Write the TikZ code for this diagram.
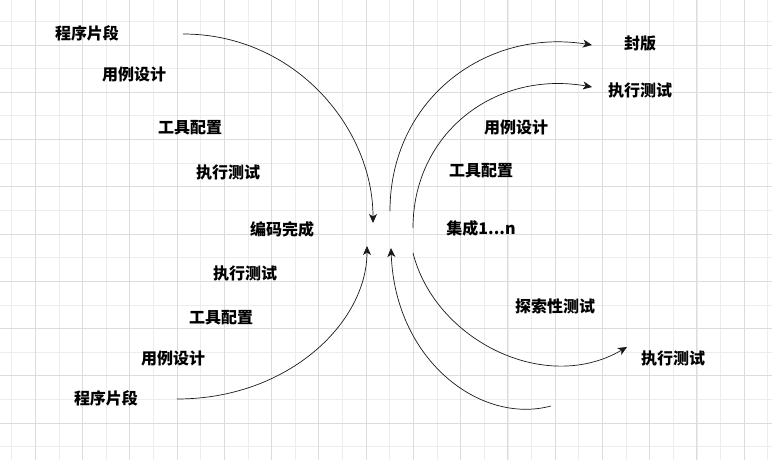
\documentclass[tikz,border=0pt]{standalone}
\usepackage{fontspec}
\setmainfont{Noto Sans CJK SC}
\usetikzlibrary{arrows.meta}
\definecolor{minorgrid}{HTML}{EDEDED}
\definecolor{majorgrid}{HTML}{DCDCDC}
\definecolor{linecol}{HTML}{1A1A1A}
\begin{document}
\begin{tikzpicture}[x=1pt,y=-1pt,
  lbl/.style={font=\fontsize{16}{19}\selectfont\bfseries, inner sep=0pt, text=black},
  conn/.style={draw=linecol, line width=0.7pt, -{Stealth[length=9pt,width=8pt,inset=2.5pt]}},
  mingrid/.style={draw=minorgrid, line width=0.8pt},
  majgrid/.style={draw=majorgrid, line width=0.9pt}]
\useasboundingbox (0,0) rectangle (772,460);
\fill[white] (0,0) rectangle (772,460);
% grid
\foreach \i in {0,...,33} {\draw[mingrid] ({11.7+23.63*\i},0) -- ({11.7+23.63*\i},460);}
\foreach \j in {0,...,20} {\draw[mingrid] (0,{-2.26+23.63*\j}) -- (772,{-2.26+23.63*\j});}
\foreach \i in {0,...,16} {\draw[majgrid] ({35.3+47.26*\i},0) -- ({35.3+47.26*\i},460);}
\foreach \j in {0,...,9} {\draw[majgrid] (0,{-2.26+47.26*\j}) -- (772,{-2.26+47.26*\j});}
% labels left
\node[lbl] (l1) at (87,33) {程序片段};
\node[lbl] (l2) at (134,74) {用例设计};
\node[lbl] (l3) at (190,128) {工具配置};
\node[lbl] (l4) at (228,172) {执行测试};
\node[lbl] (l5) at (282,229) {编码完成};
\node[lbl] (l6) at (245,273) {执行测试};
\node[lbl] (l7) at (221,318) {工具配置};
\node[lbl] (l8) at (173,358) {用例设计};
\node[lbl] (l9) at (106,398) {程序片段};
% labels right
\node[lbl] (r1) at (640,44) {封版};
\node[lbl] (r2) at (640,90) {执行测试};
\node[lbl] (r3) at (516,127) {用例设计};
\node[lbl] (r4) at (481,171) {工具配置};
\node[lbl] (r5) at (481,228) {集成1...n};
\node[lbl] (r6) at (555,306) {探索性测试};
\node[lbl] (r7) at (673,358) {执行测试};
% connector endpoints
\coordinate (a0) at (183,34);   \coordinate (a1) at (373,223);
\coordinate (b0) at (177,399);  \coordinate (b1) at (367,246);
\coordinate (c0) at (390,211);  \coordinate (c1) at (592,45);
\coordinate (d0) at (413,228);  \coordinate (d1) at (592,87);
\coordinate (e0) at (413,253);  \coordinate (e1) at (627,347);
\coordinate (f0) at (551,406);  \coordinate (f1) at (391,248);
% connectors
\draw[conn] (a0) .. controls (295,34) and (373,128) .. (a1);
\draw[conn] (b0) .. controls (289,399) and (367,322) .. (b1);
\draw[conn] (c0) .. controls (390,100) and (485,28) .. (c1);
\draw[conn] (d0) .. controls (413,134) and (494,70) .. (d1);
\draw[conn] (e0) .. controls (435,340) and (545,395) .. (e1);
\draw[conn] (f0) .. controls (480,425) and (395,360) .. (f1);
\end{tikzpicture}
\end{document}
